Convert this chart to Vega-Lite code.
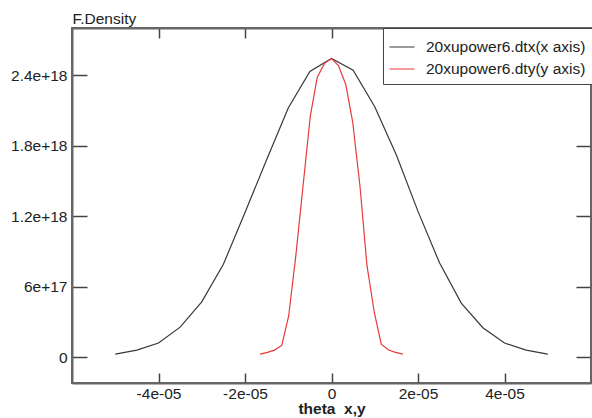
{
  "$schema": "https://vega.github.io/schema/vega-lite/v6.json",
  "width": 519,
  "height": 355,
  "autosize": "none",
  "padding": {"left": 72, "top": 28, "right": 1, "bottom": 35},
  "background": "white",
  "config": {
    "view": {"stroke": "#666", "strokeWidth": 2},
    "font": "Liberation Sans"
  },
  "data": {
    "values": [
      {"series": "20xupower6.dtx(x axis)", "theta": -5.0e-5, "density": 2.5e16},
      {"series": "20xupower6.dtx(x axis)", "theta": -4.5e-5, "density": 6.0e16},
      {"series": "20xupower6.dtx(x axis)", "theta": -4.0e-5, "density": 1.2e17},
      {"series": "20xupower6.dtx(x axis)", "theta": -3.5e-5, "density": 2.55e17},
      {"series": "20xupower6.dtx(x axis)", "theta": -3.0e-5, "density": 4.7e17},
      {"series": "20xupower6.dtx(x axis)", "theta": -2.5e-5, "density": 7.9e17},
      {"series": "20xupower6.dtx(x axis)", "theta": -2.0e-5, "density": 1.23e18},
      {"series": "20xupower6.dtx(x axis)", "theta": -1.5e-5, "density": 1.68e18},
      {"series": "20xupower6.dtx(x axis)", "theta": -1.0e-5, "density": 2.12e18},
      {"series": "20xupower6.dtx(x axis)", "theta": -5.0e-6, "density": 2.43e18},
      {"series": "20xupower6.dtx(x axis)", "theta": 0, "density": 2.54e18},
      {"series": "20xupower6.dtx(x axis)", "theta": 5.0e-6, "density": 2.44e18},
      {"series": "20xupower6.dtx(x axis)", "theta": 1.0e-5, "density": 2.13e18},
      {"series": "20xupower6.dtx(x axis)", "theta": 1.5e-5, "density": 1.72e18},
      {"series": "20xupower6.dtx(x axis)", "theta": 2.0e-5, "density": 1.24e18},
      {"series": "20xupower6.dtx(x axis)", "theta": 2.5e-5, "density": 8.0e17},
      {"series": "20xupower6.dtx(x axis)", "theta": 3.0e-5, "density": 4.6e17},
      {"series": "20xupower6.dtx(x axis)", "theta": 3.5e-5, "density": 2.5e17},
      {"series": "20xupower6.dtx(x axis)", "theta": 4.0e-5, "density": 1.2e17},
      {"series": "20xupower6.dtx(x axis)", "theta": 4.5e-5, "density": 6.0e16},
      {"series": "20xupower6.dtx(x axis)", "theta": 5.0e-5, "density": 2.5e16},
      {"series": "20xupower6.dty(y axis)", "theta": -1.65e-5, "density": 2.5e16},
      {"series": "20xupower6.dty(y axis)", "theta": -1.48e-5, "density": 4.0e16},
      {"series": "20xupower6.dty(y axis)", "theta": -1.32e-5, "density": 6.0e16},
      {"series": "20xupower6.dty(y axis)", "theta": -1.15e-5, "density": 1.0e17},
      {"series": "20xupower6.dty(y axis)", "theta": -9.9e-6, "density": 3.5e17},
      {"series": "20xupower6.dty(y axis)", "theta": -8.2e-6, "density": 8.8e17},
      {"series": "20xupower6.dty(y axis)", "theta": -6.6e-6, "density": 1.45e18},
      {"series": "20xupower6.dty(y axis)", "theta": -4.9e-6, "density": 2.05e18},
      {"series": "20xupower6.dty(y axis)", "theta": -3.3e-6, "density": 2.38e18},
      {"series": "20xupower6.dty(y axis)", "theta": -1.6e-6, "density": 2.5e18},
      {"series": "20xupower6.dty(y axis)", "theta": 0, "density": 2.54e18},
      {"series": "20xupower6.dty(y axis)", "theta": 1.6e-6, "density": 2.48e18},
      {"series": "20xupower6.dty(y axis)", "theta": 3.3e-6, "density": 2.32e18},
      {"series": "20xupower6.dty(y axis)", "theta": 4.9e-6, "density": 2.0e18},
      {"series": "20xupower6.dty(y axis)", "theta": 6.6e-6, "density": 1.45e18},
      {"series": "20xupower6.dty(y axis)", "theta": 8.2e-6, "density": 7.8e17},
      {"series": "20xupower6.dty(y axis)", "theta": 9.9e-6, "density": 3.8e17},
      {"series": "20xupower6.dty(y axis)", "theta": 1.15e-5, "density": 1.1e17},
      {"series": "20xupower6.dty(y axis)", "theta": 1.32e-5, "density": 6.0e16},
      {"series": "20xupower6.dty(y axis)", "theta": 1.48e-5, "density": 4.0e16},
      {"series": "20xupower6.dty(y axis)", "theta": 1.65e-5, "density": 2.5e16}
    ]
  },
  "layer": [
    {
      "mark": {"type": "line", "strokeWidth": 1.2},
      "encoding": {
        "x": {
          "field": "theta", "type": "quantitative",
          "scale": {"domain": [-6e-5, 6e-5], "nice": false, "zero": false},
          "axis": {
            "orient": "bottom",
            "values": [-4e-5, -2e-5, 0, 2e-5, 4e-5],
            "labelExpr": "datum.value == 0 ? '0' : replace(replace(format(datum.value, '~e'), '\u2212', '-'), 'e-', 'e-0')",
            "tickSize": -10, "tickWidth": 1.5, "tickColor": "#444",
            "domainColor": "#666", "domainWidth": 2,
            "grid": false,
            "labelFontSize": 15.5, "labelColor": "#222", "labelPadding": 13,
            "title": "theta\u00a0 x,y", "titleFontSize": 15.5, "titleFontWeight": "bold",
            "titleColor": "#222", "titlePadding": 0
          }
        },
        "y": {
          "field": "density", "type": "quantitative",
          "scale": {"domain": [-2.2e17, 2.8e18], "nice": false, "zero": false},
          "axis": {
            "orient": "left",
            "values": [0, 6e17, 1.2e18, 1.8e18, 2.4e18],
            "labelExpr": "datum.value == 0 ? '0' : format(datum.value, '~e')",
            "tickSize": -15, "tickWidth": 1.5, "tickColor": "#444",
            "domainColor": "#666", "domainWidth": 2,
            "grid": false,
            "labelFontSize": 15.5, "labelColor": "#222", "labelPadding": 20,
            "title": "F.Density", "titleAngle": 0, "titleX": 0, "titleY": -5,
            "titleAlign": "left", "titleBaseline": "alphabetic",
            "titleFontSize": 15.5, "titleFontWeight": "normal", "titleColor": "#222"
          }
        },
        "color": {
          "field": "series", "type": "nominal",
          "scale": {"domain": ["20xupower6.dtx(x axis)", "20xupower6.dty(y axis)"], "range": ["#383838", "#e8393a"]},
          "legend": {
            "title": null, "orient": "none", "legendX": 311, "legendY": 0,
            "strokeColor": "#444", "fillColor": "white", "padding": 6,
            "symbolType": "stroke", "symbolSize": 625, "symbolStrokeWidth": 1,
            "labelFontSize": 15.5, "labelColor": "#222", "labelOffset": 11,
            "rowPadding": -9, "labelLimit": 300
          }
        }
      }
    },
    {
      "mark": {"type": "line", "opacity": 0},
      "encoding": {
        "x": {
          "field": "theta", "type": "quantitative",
          "axis": {
            "orient": "top", "values": [-4e-5, -2e-5, 0, 2e-5, 4e-5],
            "labels": false, "title": null, "grid": false,
            "tickSize": -10, "tickWidth": 1.5, "tickColor": "#444",
            "domainColor": "#666", "domainWidth": 2
          }
        },
        "y": {
          "field": "density", "type": "quantitative",
          "axis": {
            "orient": "right", "values": [0, 6e17, 1.2e18, 1.8e18, 2.4e18],
            "labels": false, "title": null, "grid": false,
            "tickSize": -15, "tickWidth": 1.5, "tickColor": "#444",
            "domainColor": "#666", "domainWidth": 2
          }
        }
      }
    }
  ],
  "resolve": {"axis": {"x": "independent", "y": "independent"}}
}
